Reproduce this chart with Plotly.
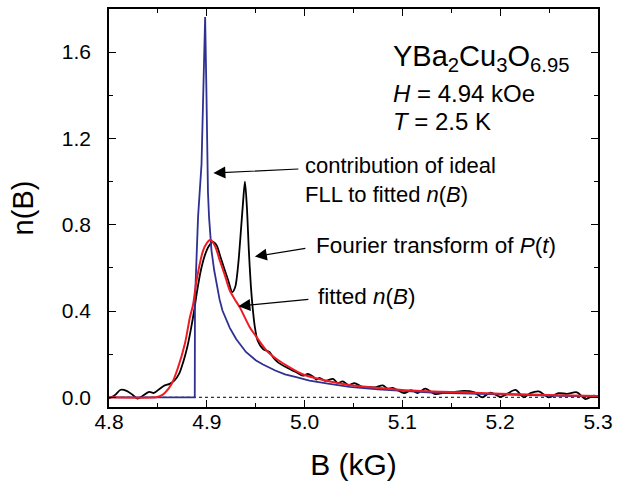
import plotly.graph_objects as go

# ---- field distribution data (B in kG) ----
# Fourier transform of the muon polarisation P(t)
ft_b = [4.800, 4.806, 4.812, 4.818, 4.824, 4.829, 4.834, 4.841, 4.846, 4.852,
        4.857, 4.862, 4.867, 4.872, 4.876, 4.880, 4.884, 4.887, 4.890, 4.894,
        4.898, 4.902, 4.906, 4.910, 4.914, 4.918, 4.922, 4.926, 4.929, 4.932,
        4.935, 4.937, 4.939, 4.941, 4.943, 4.945, 4.947, 4.949, 4.952, 4.9575,
        4.9643, 4.9677, 4.9728, 4.9813, 4.9860, 4.9915, 4.9983, 5.0034, 5.0085, 5.0120,
        5.0153, 5.0210, 5.0290, 5.0340, 5.0390, 5.0450, 5.0510, 5.0580, 5.0650, 5.0720,
        5.0800, 5.0850, 5.0900, 5.1017, 5.1089, 5.1156, 5.1235, 5.1335, 5.1420, 5.1520,
        5.1630, 5.1730, 5.1816, 5.1900, 5.2003, 5.2071, 5.2156, 5.2241, 5.2309, 5.2394,
        5.2496, 5.2598, 5.2683, 5.2785, 5.2870, 5.2955, 5.3000]
ft_n = [-0.005, 0.010, 0.035, 0.030, 0.012, -0.006, 0.005, 0.025, 0.020, 0.040,
        0.055, 0.062, 0.078, 0.112, 0.165, 0.232, 0.322, 0.400, 0.490, 0.590,
        0.658, 0.700, 0.720, 0.705, 0.650, 0.595, 0.540, 0.488, 0.510, 0.610,
        0.780, 0.900, 1.000, 0.880, 0.680, 0.520, 0.410, 0.330, 0.263, 0.224,
        0.209, 0.186, 0.162, 0.139, 0.128, 0.116, 0.100, 0.108, 0.096, 0.082,
        0.090, 0.076, 0.085, 0.066, 0.074, 0.056, 0.066, 0.050, 0.048, 0.046,
        0.055, 0.040, 0.044, 0.019, 0.033, 0.020, 0.040, 0.015, 0.020, 0.024,
        0.030, 0.024, 0.000, 0.022, 0.002, 0.016, 0.034, 0.000, 0.019, 0.027,
        0.000, 0.019, 0.016, 0.023, -0.008, 0.008, 0.004]

# fitted n(B)
fit_b = [4.800, 4.848, 4.852, 4.857, 4.864, 4.870, 4.8776, 4.8827, 4.8860, 4.8895,
         4.8962, 4.9000, 4.9037, 4.9085, 4.9133, 4.9185, 4.9235, 4.9285, 4.9337, 4.9439,
         4.9500, 4.9610, 4.9720, 4.9847, 4.9980, 5.0120, 5.0260, 5.0460, 5.0700, 5.1000,
         5.1400, 5.1800, 5.2200, 5.2600, 5.3000]
fit_n = [0.000, 0.000, 0.005, 0.020, 0.062, 0.130, 0.248, 0.370, 0.430, 0.541,
         0.680, 0.715, 0.730, 0.700, 0.634, 0.565, 0.495, 0.455, 0.417, 0.325,
         0.285, 0.217, 0.175, 0.139, 0.107, 0.088, 0.073, 0.057, 0.045, 0.034,
         0.026, 0.020, 0.014, 0.009, 0.006]

# contribution of the ideal flux-line lattice
fll_b = [4.800, 4.8877, 4.8879, 4.8911, 4.8946, 4.8969, 4.8983, 4.8995, 4.9003, 4.9012,
         4.9023, 4.9048, 4.9075, 4.9099, 4.9130, 4.9160, 4.9200, 4.9235, 4.9300, 4.9400,
         4.9500, 4.9575, 4.9700, 4.9800, 4.9915, 5.0050, 5.0255, 5.0460, 5.0750, 5.1000,
         5.1300, 5.1786, 5.2200, 5.2600, 5.3000]
fll_n = [0.000, 0.000, 0.450, 0.840, 1.080, 1.530, 1.763, 1.450, 1.100, 0.950,
         0.835, 0.680, 0.590, 0.526, 0.455, 0.402, 0.355, 0.322, 0.270, 0.210,
         0.172, 0.152, 0.124, 0.106, 0.093, 0.077, 0.062, 0.048, 0.037, 0.029,
         0.022, 0.016, 0.010, 0.007, 0.004]

x_range = [4.8, 5.3]
y_range = [-0.045, 1.8]
x_ticks = [4.8, 4.9, 5.0, 5.1, 5.2, 5.3]
y_ticks = [0.0, 0.4, 0.8, 1.2, 1.6]

FONT = "Liberation Sans, Arial, Helvetica, sans-serif"
BLUE = "#2E3192"
RED = "#ED1C24"

fig = go.Figure()

# zero baseline (dotted)
fig.add_trace(go.Scatter(x=x_range, y=[0, 0], mode="lines",
                         line=dict(color="black", width=1, dash="dot"),
                         hoverinfo="skip", showlegend=False))
fig.add_trace(go.Scatter(x=ft_b, y=ft_n, mode="lines",
                         line=dict(color="black", width=1.8, shape="spline", smoothing=0.8),
                         showlegend=False))
fig.add_trace(go.Scatter(x=fll_b, y=fll_n, mode="lines",
                         line=dict(color=BLUE, width=1.8),
                         showlegend=False))
fig.add_trace(go.Scatter(x=fit_b, y=fit_n, mode="lines",
                         line=dict(color=RED, width=2, shape="spline", smoothing=0.8),
                         showlegend=False))

# plot-area geometry in pixels, used to place labels
L, R, T, B = 109, 598.5, 9.3, 406.7


def px_x(p):
    return x_range[0] + (p - L) / (R - L) * (x_range[1] - x_range[0])


def px_y(p):
    return y_range[0] + (B - p) / (B - T) * (y_range[1] - y_range[0])


def label(text, left, mid, size):
    fig.add_annotation(x=px_x(left), y=px_y(mid), xref="x", yref="y",
                       text=text, showarrow=False, xanchor="left", yanchor="middle",
                       align="left", font=dict(family=FONT, size=size, color="black"))


def arrow(tip, tail):
    fig.add_annotation(x=px_x(tip[0]), y=px_y(tip[1]), xref="x", yref="y",
                       ax=tail[0] - tip[0], ay=tail[1] - tip[1], text="",
                       showarrow=True, arrowhead=2, arrowsize=2.0, arrowwidth=1.2,
                       arrowcolor="black")


label("YBa<sub>2</sub>Cu<sub>3</sub>O<sub>6.95</sub>", 391, 58, 29)
label("<i>H</i> = 4.94 kOe", 391, 94, 24)
label("<i>T</i> = 2.5 K", 391, 122, 24)
label("contribution of ideal<br>FLL to fitted <i>n</i>(<i>B</i>)", 303, 180, 22)
label("Fourier transform of <i>P</i>(<i>t</i>)", 314, 245, 22.5)
label("fitted <i>n</i>(<i>B</i>)", 316, 296, 22.5)

arrow((213.5, 173), (300, 169))
arrow((255, 256.5), (307, 248))
arrow((238.5, 306), (310, 299))

axis_common = dict(
    showline=True, linecolor="black", linewidth=1.5, mirror="allticks",
    ticks="inside", ticklen=7, tickwidth=1.2, tickcolor="black",
    showgrid=False, zeroline=False,
    tickfont=dict(family=FONT, size=21, color="black"),
)

fig.update_xaxes(range=x_range, tickvals=x_ticks, tickformat=".1f",
                 minor=dict(ticks="inside", ticklen=4, tickwidth=1.2, tickcolor="black",
                            dtick=0.05, tick0=4.8, showgrid=False),
                 title=dict(text="B (kG)", font=dict(family=FONT, size=30, color="black"),
                            standoff=22),
                 ticklabelstandoff=-5,
                 **axis_common)
fig.update_yaxes(range=y_range, tickvals=y_ticks, tickformat=".1f",
                 minor=dict(ticks="inside", ticklen=4, tickwidth=1.2, tickcolor="black",
                            dtick=0.2, tick0=0, showgrid=False),
                 title=dict(text="n(B)", font=dict(family=FONT, size=29, color="black"),
                            standoff=20),
                 ticklabelstandoff=12,
                 **axis_common)

fig.update_layout(
    width=623, height=487,
    margin=dict(l=L, r=623 - R, t=T, b=487 - B, autoexpand=False),
    paper_bgcolor="white", plot_bgcolor="white",
    showlegend=False,
)

fig.write_html("out.html")
